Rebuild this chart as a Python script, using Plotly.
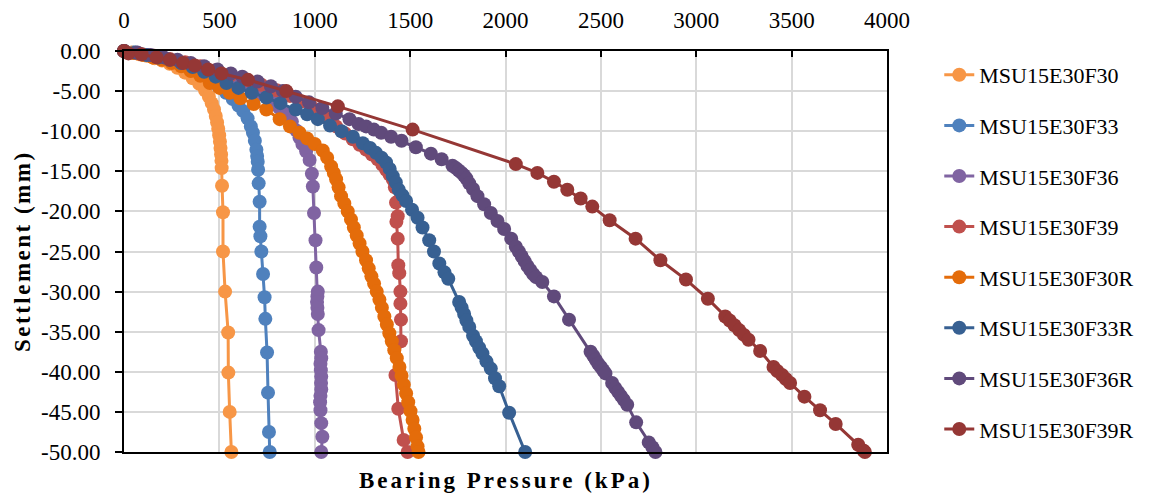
import plotly.graph_objects as go

# ---------------- data ----------------
names = ["MSU15E30F30", "MSU15E30F33", "MSU15E30F36", "MSU15E30F39",
         "MSU15E30F30R", "MSU15E30F33R", "MSU15E30F36R", "MSU15E30F39R"]
colors = ["#F79646", "#4F81BD", "#8064A2", "#C0504D",
          "#E46C0A", "#376092", "#604A7B", "#953735"]

p_f30 = [0, 40, 80, 120, 160, 200, 240, 280, 320, 360, 395, 425, 445, 460, 472, 481, 488, 494, 499, 503,
         506, 509, 511, 512, 514, 519, 519, 530, 546, 547, 554, 563]
s_f30 = [0, -0.2, -0.4, -0.6, -0.9, -1.2, -1.6, -2.1, -2.7, -3.4, -4.1, -4.9, -5.7, -6.5, -7.3, -8.1, -8.9,
         -9.7, -10.5, -11.3, -12.1, -12.9, -13.7, -14.6, -16.8, -20.1, -25.0, -30.0, -35.1, -40.1, -45.0, -50.0]

p_f33 = [0, 50, 100, 150, 200, 250, 300, 350, 400, 450, 495, 535, 570, 600, 625, 648, 665, 676, 686, 694,
         698, 701, 703, 706, 711, 711, 715, 720, 729, 737, 741, 750, 755, 760, 764]
s_f33 = [0, -0.2, -0.45, -0.7, -1.0, -1.35, -1.8, -2.3, -2.9, -3.6, -4.4, -5.2, -6.0, -6.8, -7.5, -8.4, -9.4,
         -10.2, -11.2, -12.3, -13.1, -13.8, -14.8, -16.5, -18.8, -21.9, -23.1, -25.0, -27.8, -30.7, -33.4,
         -37.6, -42.6, -47.5, -50.0]

p_f36 = [0, 60, 120, 180, 240, 300, 360, 420, 480, 540, 600, 660, 720, 770, 815, 850, 880, 903, 920, 935,
         955, 973, 985, 990, 996, 1004, 1008, 1016, 1014, 1012, 1014, 1016, 1020, 1032, 1034, 1030, 1032,
         1034, 1033, 1034, 1030, 1028, 1030, 1034, 1040, 1034]
s_f36 = [0, -0.25, -0.5, -0.8, -1.1, -1.45, -1.85, -2.3, -2.8, -3.3, -3.9, -4.6, -5.4, -6.2, -7.1, -7.9,
         -8.8, -9.9, -10.8, -11.6, -12.5, -13.6, -15.3, -16.9, -20.2, -23.6, -27.0, -30.0, -30.6, -31.3,
         -32.0, -32.8, -34.8, -37.5, -38.3, -39.0, -39.8, -40.6, -41.4, -42.2, -43.0, -43.8, -44.8, -46.4,
         -48.1, -50.0]

p_f39 = [0, 80, 160, 240, 320, 400, 480, 560, 640, 720, 800, 870, 930, 990, 1060, 1112, 1160, 1199, 1235,
         1269, 1300, 1330, 1355, 1374, 1392, 1409, 1420, 1426, 1435, 1428, 1435, 1438, 1443, 1449, 1449,
         1452, 1452, 1423, 1438, 1466, 1487]
s_f39 = [0, -0.3, -0.6, -1.0, -1.4, -1.9, -2.4, -3.0, -3.6, -4.2, -4.9, -5.6, -6.3, -7.1, -8.3, -9.4,
         -10.3, -11.0, -11.7, -12.3, -12.9, -13.5, -14.2, -14.8, -15.4, -16.0, -17.0, -18.9, -20.6, -21.3,
         -23.4, -26.7, -27.7, -30.0, -31.5, -33.5, -36.2, -40.4, -44.6, -48.5, -50.0]

p_f30r = [0, 50, 100, 150, 200, 250, 300, 350, 400, 450, 500, 554, 610, 680, 746, 816, 870, 920, 960, 1000,
          1042, 1065, 1086, 1100, 1112, 1125, 1138, 1155, 1173, 1190, 1205, 1220, 1235, 1250, 1269, 1283,
          1297, 1311, 1325, 1339, 1352, 1365, 1378, 1391, 1404, 1417, 1430, 1444, 1455, 1467, 1479, 1490,
          1502, 1513, 1522, 1531, 1539, 1544]
s_f30r = [0, -0.25, -0.5, -0.8, -1.1, -1.5, -1.9, -2.5, -3.1, -4.0, -4.6, -5.2, -5.9, -6.6, -7.3, -8.5,
          -9.4, -10.2, -10.9, -11.6, -12.4, -13.3, -14.4, -15.2, -16.0, -17.0, -18.1, -19.0, -20.0, -21.0,
          -22.0, -23.0, -24.0, -25.0, -26.1, -27.1, -28.1, -29.0, -30.0, -31.0, -32.0, -33.1, -34.1, -35.2,
          -36.2, -37.3, -38.3, -39.4, -40.5, -41.6, -42.7, -43.8, -44.9, -46.0, -47.1, -48.2, -49.3, -50.0]

p_f33r = [0, 60, 120, 180, 240, 300, 360, 420, 480, 537, 600, 670, 746, 820, 900, 960, 1016, 1080, 1140,
          1200, 1252, 1290, 1321, 1350, 1374, 1393, 1409, 1425, 1440, 1460, 1479, 1510, 1539, 1565, 1600,
          1625, 1653, 1680, 1700, 1757, 1770, 1783, 1795, 1810, 1830, 1845, 1862, 1879, 1900, 1923, 1945,
          1967, 2019, 2103]
s_f33r = [0, -0.2, -0.5, -0.8, -1.1, -1.5, -2.0, -2.6, -3.2, -4.0, -4.6, -5.2, -5.8, -6.5, -7.3, -7.9,
          -8.5, -9.3, -10.0, -10.7, -11.5, -12.1, -12.7, -13.3, -13.9, -14.7, -15.6, -16.4, -17.3, -18.0,
          -18.7, -19.8, -20.8, -22.0, -23.6, -25.0, -26.5, -27.6, -28.4, -31.3, -32.0, -32.8, -33.6, -34.4,
          -35.5, -36.2, -37.0, -37.7, -38.7, -39.6, -40.8, -41.8, -45.1, -50.0]

p_f36r = [0, 70, 140, 210, 280, 350, 420, 490, 560, 620, 700, 770, 833, 900, 970, 1040, 1110, 1182, 1230,
          1269, 1310, 1348, 1400, 1455, 1530, 1609, 1665, 1722, 1740, 1755, 1770, 1782, 1795, 1810, 1830,
          1853, 1888, 1923, 1958, 1993, 2030, 2054, 2070, 2085, 2100, 2115, 2130, 2145, 2160, 2193, 2254,
          2333, 2446, 2460, 2473, 2486, 2500, 2512, 2524, 2559, 2575, 2590, 2605, 2620, 2638, 2685, 2751,
          2770, 2786]
s_f36r = [0, -0.2, -0.5, -0.8, -1.1, -1.5, -1.9, -2.3, -2.8, -3.2, -3.8, -4.4, -5.0, -5.7, -6.4, -7.1,
          -7.8, -8.5, -9.1, -9.4, -9.8, -10.2, -10.7, -11.2, -12.0, -12.8, -13.5, -14.3, -14.6, -14.9,
          -15.2, -15.5, -15.9, -16.5, -17.2, -18.1, -19.1, -20.2, -21.2, -22.2, -23.4, -24.4, -25.0, -25.6,
          -26.2, -26.8, -27.3, -27.8, -28.2, -28.8, -30.6, -33.5, -37.5, -38.0, -38.5, -39.0, -39.4, -39.8,
          -40.2, -41.4, -42.0, -42.5, -43.0, -43.5, -44.1, -46.3, -48.8, -49.4, -50.0]

p_f39r = [0, 23, 92, 171, 241, 310, 371, 441, 511, 650, 851, 1121, 1513, 2054, 2167, 2254, 2324, 2394,
          2455, 2546, 2682, 2812, 2946, 3061, 3152, 3175, 3200, 3225, 3250, 3274, 3335, 3405, 3425, 3450,
          3470, 3492, 3567, 3649, 3731, 3849, 3876, 3884]
s_f39r = [0, -0.3, -0.4, -0.8, -1.1, -1.5, -1.8, -2.3, -2.8, -3.6, -5.0, -6.9, -9.8, -14.1, -15.2, -16.3,
          -17.3, -18.4, -19.4, -21.1, -23.4, -26.1, -28.5, -30.9, -33.1, -33.6, -34.2, -34.8, -35.4, -36.0,
          -37.4, -39.4, -39.9, -40.4, -40.9, -41.4, -43.1, -44.8, -46.5, -49.1, -49.8, -50.0]

pressures = [p_f30, p_f33, p_f36, p_f39, p_f30r, p_f33r, p_f36r, p_f39r]
settlements = [s_f30, s_f33, s_f36, s_f39, s_f30r, s_f33r, s_f36r, s_f39r]

x_ticks = [0, 500, 1000, 1500, 2000, 2500, 3000, 3500, 4000]
y_ticks = [0, -5, -10, -15, -20, -25, -30, -35, -40, -45, -50]
x_title = "Bearing Pressure (kPa)"
y_title = "Settlement (mm)"

# ---------------- figure ----------------
# page body has an 8px default margin, so the figure is sized to fit the 1153x494 window
FONT = "Liberation Serif, Times New Roman, serif"
fig = go.Figure()
for i, (n, c, p, s) in enumerate(zip(names, colors, pressures, settlements)):
    fig.add_trace(go.Scatter(
        x=p, y=s, name=n, mode="lines+markers", legendgroup=f"g{i}",
        line=dict(color=c, width=3),
        marker=dict(color=c, size=14, symbol="circle"),
        cliponaxis=False,
    ))

fig.update_layout(
    width=1145, height=486,
    margin=dict(l=116, r=266, t=43, b=42, autoexpand=False),
    paper_bgcolor="white", plot_bgcolor="white",
    font=dict(family=FONT, size=22, color="black"),
    showlegend=True,
    legend=dict(x=1.0685, xanchor="left", y=0.9925, yanchor="top",
                font=dict(family=FONT, size=22, color="black"),
                tracegroupgap=19, bgcolor="rgba(0,0,0,0)", maxheight=480),
    xaxis=dict(side="top", range=[0, 4000], tickvals=x_ticks,
               ticktext=[str(v) for v in x_ticks], automargin=False,
               showgrid=True, gridcolor="#D9D9D9", gridwidth=1.5,
               showline=True, linecolor="black", linewidth=2, mirror=True,
               ticks="inside", ticklen=6, tickwidth=2, tickcolor="black",
               ticklabelstandoff=12,
               zeroline=False, tickfont=dict(family=FONT, size=23)),
    yaxis=dict(range=[-50, 0], tickvals=y_ticks, automargin=False,
               ticktext=[f"{v:.2f}" for v in y_ticks],
               showgrid=True, gridcolor="#D9D9D9", gridwidth=1.5,
               showline=True, linecolor="black", linewidth=2, mirror=True,
               ticks="outside", ticklen=7, tickwidth=2, tickcolor="black",
               ticklabelstandoff=10,
               zeroline=False, tickfont=dict(family=FONT, size=23)),
    annotations=[
        dict(text=f"<b><span style='letter-spacing:3px'>{x_title}</span></b>",
             xref="paper", yref="paper", x=0.5, y=-0.035, xanchor="center", yanchor="top",
             showarrow=False, font=dict(family=FONT, size=23, color="black")),
        dict(text=f"<b><span style='letter-spacing:2.5px'>{y_title}</span></b>",
             xref="paper", yref="paper", x=-0.133, y=0.5, xanchor="center", yanchor="middle",
             textangle=-90, showarrow=False, font=dict(family=FONT, size=23, color="black")),
    ],
)

fig.write_html("out.html")
